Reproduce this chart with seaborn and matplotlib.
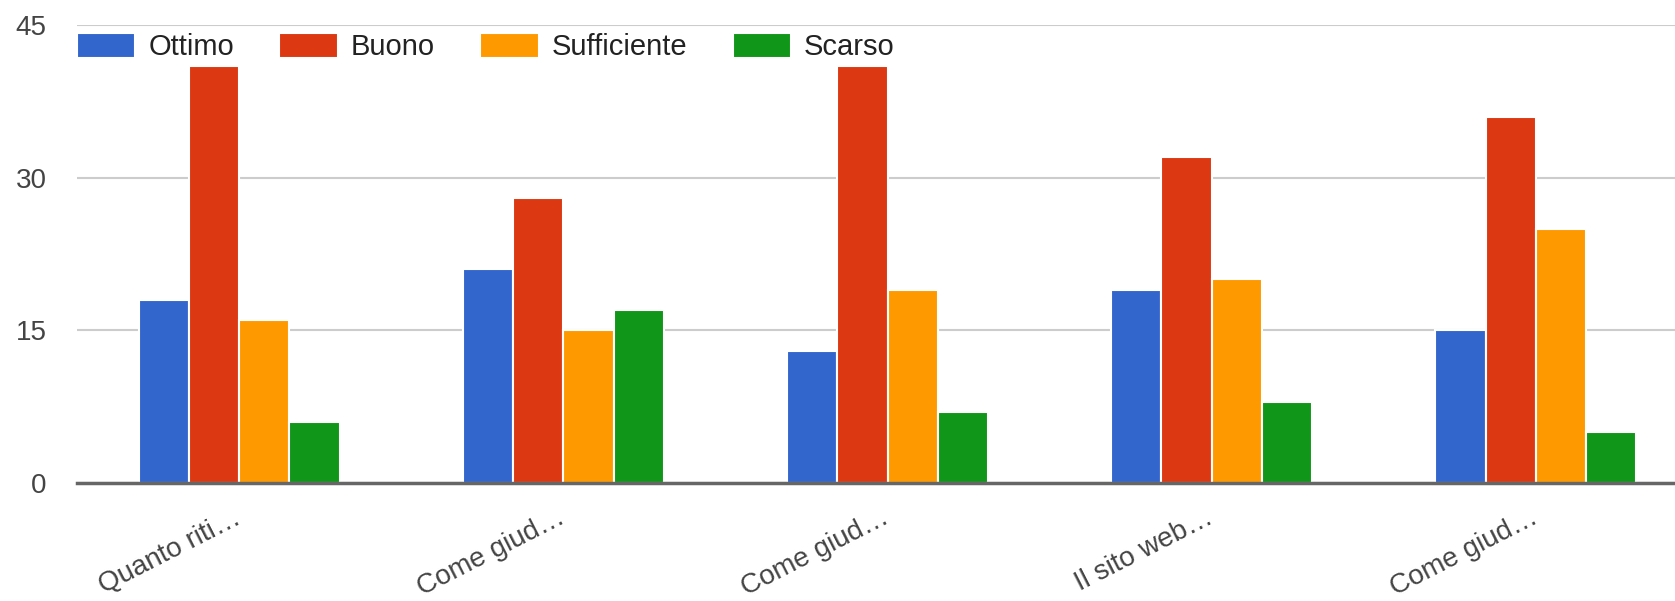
"""Grouped bar chart of survey ratings (Google Charts look)."""

import matplotlib

matplotlib.use("Agg")
import matplotlib.pyplot as plt
import pandas as pd
import seaborn as sns

questions = ["q1", "q2", "q3", "q4", "q5"]
tick_labels = ["Quanto riti…", "Come giud…", "Come giud…", "Il sito web…", "Come giud…"]
ratings = ["Ottimo", "Buono", "Sufficiente", "Scarso"]
ottimo = [18, 21, 13, 19, 15]
buono = [41, 28, 41, 32, 36]
sufficiente = [16, 15, 19, 20, 25]
scarso = [6, 17, 7, 8, 5]
y_ticks = [0, 15, 30, 45]

colors = ["#3366cc", "#dc3912", "#ff9900", "#109618"]

rows = []
for rating, values in zip(ratings, [ottimo, buono, sufficiente, scarso]):
    for question, value in zip(questions, values):
        rows.append({"question": question, "rating": rating, "count": value})
df = pd.DataFrame(rows)

sns.set_theme(style="white")
plt.rcParams["font.family"] = ["Liberation Sans", "DejaVu Sans"]

W, H = 1675, 601
fig = plt.figure(figsize=(W / 100, H / 100), dpi=100)
ax = fig.add_axes([77 / W, 1 - 483 / H, (1698 - 77) / W, (483 - 25) / H])

sns.barplot(
    data=df,
    x="question",
    y="count",
    hue="rating",
    order=questions,
    hue_order=ratings,
    palette=colors,
    width=0.62,
    saturation=1,
    edgecolor="white",
    linewidth=1.5,
    errorbar=None,
    ax=ax,
)

ax.set_xlim(-0.5, len(questions) - 0.5)
ax.set_ylim(0, 45)
ax.set_yticks(y_ticks)
ax.set_yticklabels([str(t) for t in y_ticks])
ax.set_xticks(range(len(questions)))
ax.set_xticklabels(tick_labels, rotation=27, ha="right", va="center",
                   rotation_mode="anchor")
ax.set_xlabel("")
ax.set_ylabel("")

ax.yaxis.grid(True, color="#cccccc", linewidth=1.5)
ax.set_axisbelow(True)
for side in ["top", "right", "left"]:
    ax.spines[side].set_visible(False)
ax.spines["bottom"].set_color("#666666")
ax.spines["bottom"].set_linewidth(2.5)
ax.spines["bottom"].set_zorder(3)

ax.tick_params(axis="x", length=0, pad=24, labelsize=20, labelcolor="#444444")
ax.tick_params(axis="y", length=0, pad=22, labelsize=20, labelcolor="#444444")

ax.legend(
    loc="center left",
    bbox_to_anchor=(77 / W, 1 - 47 / H),
    bbox_transform=fig.transFigure,
    ncol=4,
    frameon=False,
    fontsize=21,
    handlelength=2.0,
    handleheight=0.96,
    handletextpad=0.45,
    columnspacing=1.55,
    borderpad=0,
    borderaxespad=0,
    labelcolor="#222222",
)

fig.savefig("out.png", dpi=100)
plt.close(fig)
